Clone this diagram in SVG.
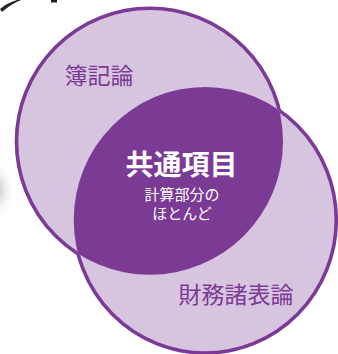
<svg xmlns="http://www.w3.org/2000/svg" width="338" height="354" viewBox="0 0 338 354">
<style>
.light{fill:#d7c4df}
.dark{fill:#7b3a93}
.ring{fill:none;stroke:#7b3a96;stroke-width:3.6}
.lbl{font-family:"Noto Sans CJK JP","Noto Sans",sans-serif;text-anchor:middle}
.outer{fill:#7b3a96;font-size:23px}
.inner{fill:#ffffff}
</style>
<defs>
<clipPath id="c1"><circle cx="149.75" cy="141.5" r="133.25"/></clipPath>
<mask id="outside2"><rect width="338" height="354" fill="#fff"/><ellipse cx="205" cy="220" rx="131.25" ry="133" fill="#000"/></mask>
<mask id="outside1"><rect width="338" height="354" fill="#fff"/><circle cx="149.75" cy="141.5" r="133.25" fill="#000"/></mask>
<radialGradient id="shadow" cx="0.5" cy="0.5" r="0.5">
<stop offset="0" stop-color="#9a9a9a" stop-opacity="0.8"/>
<stop offset="1" stop-color="#ffffff" stop-opacity="0"/>
</radialGradient>
</defs>
<rect width="338" height="354" fill="#ffffff"/>
<ellipse cx="-6" cy="190" rx="22" ry="32" fill="url(#shadow)"/>
<path d="M0 9 Q7 3 17 0 L21 0 Q11 4 2 12 Z" fill="#222"/>
<rect x="51" y="0" width="6" height="2.5" fill="#222"/>
<g id="bookkeeping">
<circle class="light" cx="149.75" cy="141.5" r="133.25"/>
</g>
<g id="financial-statements">
<ellipse class="light" cx="205" cy="220" rx="131.25" ry="133"/>
</g>
<g id="common">
<ellipse class="dark" cx="205" cy="220" rx="131.25" ry="133" clip-path="url(#c1)"/>
</g>
<g id="connectors">
<circle class="ring" cx="149.75" cy="141.5" r="133.25" mask="url(#outside2)"/>
<ellipse class="ring" cx="205" cy="220" rx="131.25" ry="133" mask="url(#outside1)"/>
</g>
<text class="lbl outer" x="99" y="84">簿記論</text>
<text class="lbl outer" x="236" y="303">財務諸表論</text>
<text class="lbl inner" x="181.5" y="175" font-size="28" font-weight="bold">共通項目</text>
<text class="lbl inner" x="182" y="200" font-size="15">計算部分の</text>
<text class="lbl inner" x="182" y="219" font-size="15">ほとんど</text>
</svg>
